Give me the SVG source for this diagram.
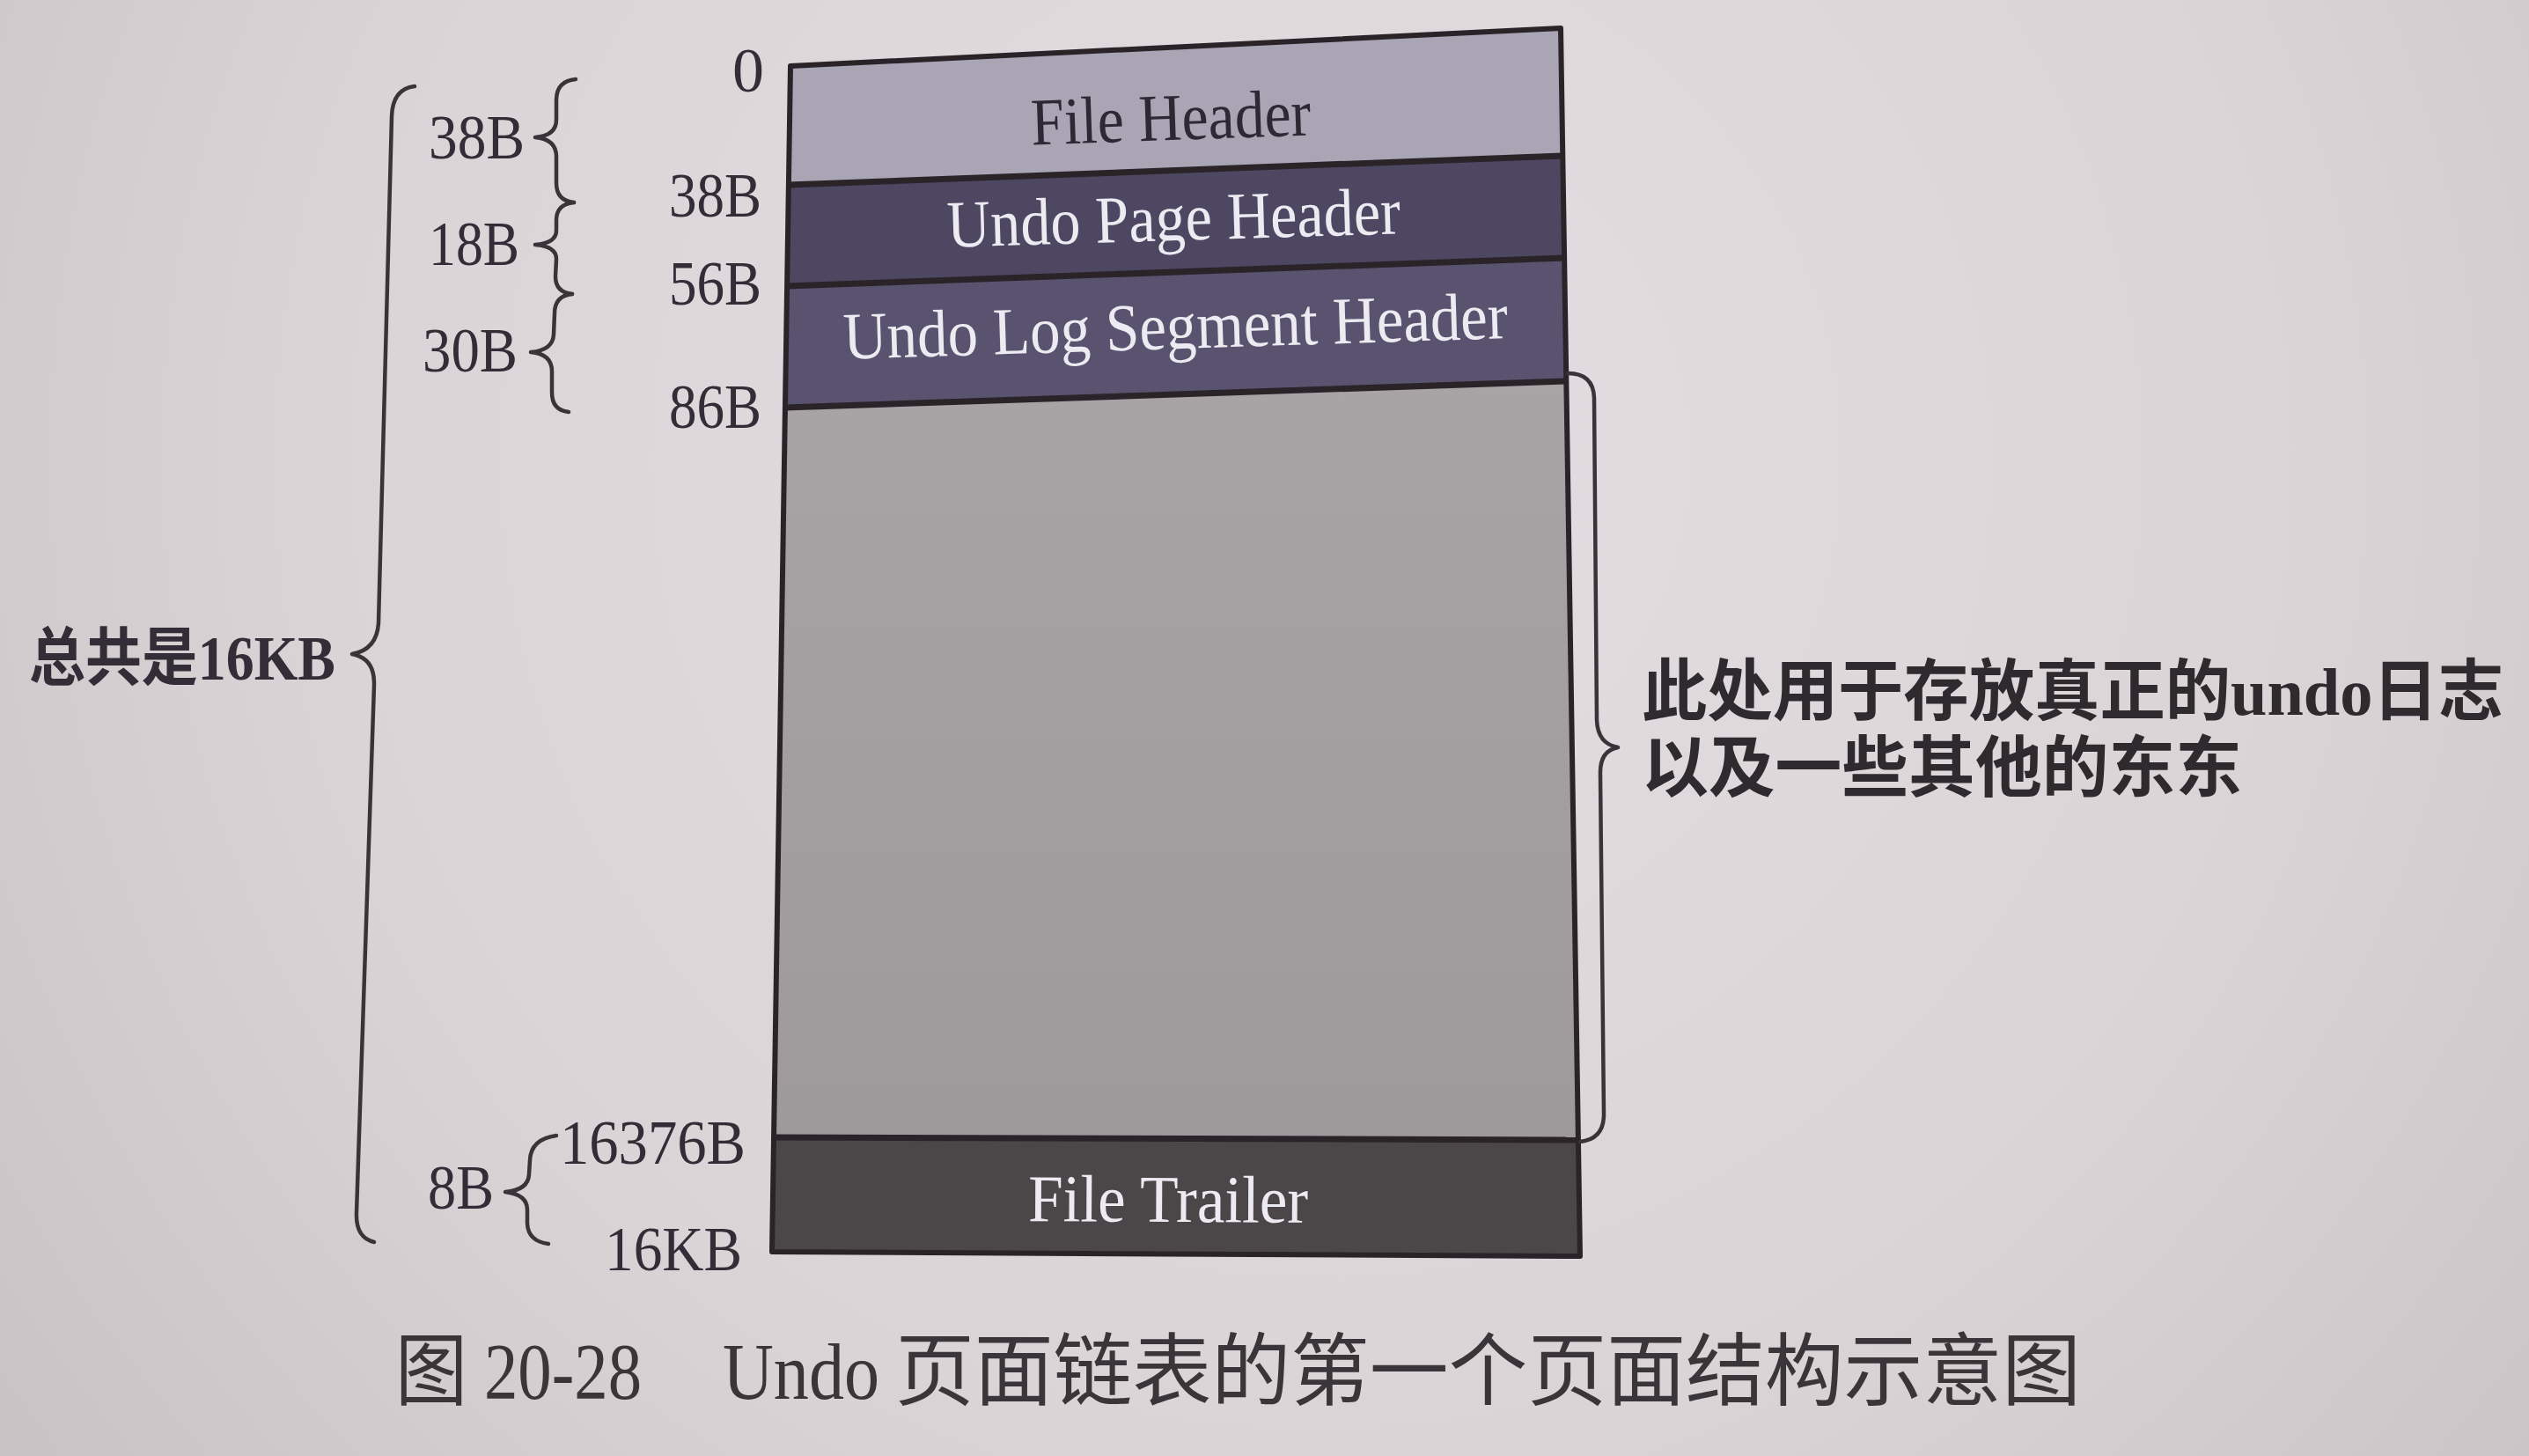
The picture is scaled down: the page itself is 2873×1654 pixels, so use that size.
<svg xmlns="http://www.w3.org/2000/svg" width="2873" height="1654" viewBox="0 0 2873 1654">
  <defs>
    <radialGradient id="paper" cx="1500" cy="520" r="1900" gradientUnits="userSpaceOnUse">
      <stop offset="0" stop-color="#e3dee1"/>
      <stop offset="0.6" stop-color="#dad4d7"/>
      <stop offset="1" stop-color="#c9c2c5"/>
    </radialGradient>
    <linearGradient id="bodyFill" x1="0" y1="0" x2="0" y2="1">
      <stop offset="0" stop-color="#a8a4a6"/>
      <stop offset="1" stop-color="#9e9a9b"/>
    </linearGradient>
    <style>
      .edge { fill: none; stroke: #2a2429; stroke-width: 6; stroke-linejoin: round; }
      .sep { fill: none; stroke: #2a2429; stroke-width: 7; }
      .brace { fill: none; stroke: #3a3438; stroke-width: 4.5; stroke-linecap: round; stroke-linejoin: round; }
      .lbl { font-family: "Liberation Serif", "Noto Sans CJK SC", serif; font-size: 72px; fill: #332d38; }
      .box { font-family: "Liberation Serif", serif; font-size: 76px; text-anchor: middle; }
      .dark { fill: #2d2833; }
      .light { fill: #ecebf2; }
      .note { font-family: "Liberation Serif", "Noto Sans CJK SC", serif; font-size: 76px; font-weight: bold; fill: #2e2a2e; }
      .cap { font-family: "Liberation Serif", "Noto Sans CJK SC", serif; font-size: 90px; fill: #3a3538; }
    </style>
  </defs>

  <!-- page background -->
  <rect x="0" y="0" width="2873" height="1654" fill="url(#paper)"/>

  <!-- page sections -->
  <g id="node-file-header">
    <polygon points="898,75 1773,32 1775,177 896,210" fill="#aaa5b5"/>
    <text class="box dark" x="1331" y="159" textLength="318" lengthAdjust="spacingAndGlyphs" transform="rotate(-2 1331 159)">File Header</text>
  </g>
  <g id="node-undo-page-header">
    <polygon points="896,210 1775,177 1777,293 894,325" fill="#4d4762"/>
    <text class="box light" x="1334" y="273" textLength="515" lengthAdjust="spacingAndGlyphs" transform="rotate(-1.7 1334 273)">Undo Page Header</text>
  </g>
  <g id="node-undo-log-segment-header">
    <polygon points="894,325 1777,293 1779,433 892,463" fill="#59536f"/>
    <text class="box light" x="1336" y="396" textLength="755" lengthAdjust="spacingAndGlyphs" transform="rotate(-1.8 1336 396)">Undo Log Segment Header</text>
  </g>
  <g id="node-body">
    <polygon points="892,463 1779,433 1793,1295 879,1292" fill="url(#bodyFill)"/>
  </g>
  <g id="node-file-trailer">
    <polygon points="879,1292 1793,1295 1795,1427 877,1422" fill="#4b4748"/>
    <text class="box light" x="1327" y="1388" textLength="318" lengthAdjust="spacingAndGlyphs" transform="rotate(0.3 1327 1388)">File Trailer</text>
  </g>

  <!-- section borders -->
  <g id="outline">
    <polyline class="sep" points="896,210 1775,177"/>
    <polyline class="sep" points="894,325 1777,293"/>
    <polyline class="sep" points="892,463 1779,433"/>
    <polyline class="sep" points="879,1292 1793,1295"/>
    <polygon class="edge" points="898,75 1773,32 1795,1427 877,1422"/>
  </g>

  <!-- braces -->
  <g id="connectors">
    <!-- 38B / 18B / 30B -->
    <path class="brace" d="M654,90 Q632,92 632,114 L632,136 Q632,154 608,156 Q632,158 632,178 L632,208 Q632,228 652,230"/>
    <path class="brace" d="M652,230 Q632,232 632,250 L632,262 Q632,276 608,278 Q632,280 632,294 L631,314 Q631,332 650,334"/>
    <path class="brace" d="M650,334 Q630,336 630,356 L629,380 Q628,398 603,400 Q627,402 627,422 L627,446 Q627,466 646,468"/>
    <!-- 8B -->
    <path class="brace" d="M632,1290 Q603,1294 602,1318 L601,1334 Q600,1352 574,1354 Q599,1357 599,1374 L599,1390 Q600,1410 623,1413"/>
    <!-- total -->
    <path class="brace" d="M471,98 Q446,101 445,132 L430,708 Q428,738 400,743 Q426,748 425,778 L405,1378 Q404,1406 425,1411"/>
    <!-- data area -->
    <path class="brace" d="M1781,424 Q1810,424 1811,452 L1814,818 Q1815,845 1838,849 Q1817,853 1818,880 L1822,1266 Q1822,1294 1795,1297"/>
  </g>

  <!-- offsets and sizes -->
  <g id="labels">
    <text class="lbl" x="868" y="104" text-anchor="end">0</text>
    <text class="lbl" x="865" y="246" text-anchor="end" textLength="105" lengthAdjust="spacingAndGlyphs">38B</text>
    <text class="lbl" x="865" y="346" text-anchor="end" textLength="105" lengthAdjust="spacingAndGlyphs">56B</text>
    <text class="lbl" x="865" y="486" text-anchor="end" textLength="105" lengthAdjust="spacingAndGlyphs">86B</text>
    <text class="lbl" x="847" y="1322" text-anchor="end" textLength="211" lengthAdjust="spacingAndGlyphs">16376B</text>
    <text class="lbl" x="843" y="1443" text-anchor="end" textLength="156" lengthAdjust="spacingAndGlyphs">16KB</text>

    <text class="lbl" x="487" y="180" textLength="109" lengthAdjust="spacingAndGlyphs">38B</text>
    <text class="lbl" x="487" y="301" textLength="103" lengthAdjust="spacingAndGlyphs">18B</text>
    <text class="lbl" x="480" y="422" textLength="108" lengthAdjust="spacingAndGlyphs">30B</text>
    <text class="lbl" x="486" y="1373" textLength="75" lengthAdjust="spacingAndGlyphs">8B</text>
    <text class="lbl" x="33" y="772" font-weight="bold" textLength="348" lengthAdjust="spacingAndGlyphs">总共是16KB</text>

    <text class="note" x="1865" y="812" textLength="979" lengthAdjust="spacingAndGlyphs">此处用于存放真正的undo日志</text>
    <text class="note" x="1865" y="899" textLength="682" lengthAdjust="spacingAndGlyphs">以及一些其他的东东</text>
  </g>

  <!-- figure caption -->
  <g id="caption">
    <text class="cap" x="449" y="1589" textLength="82" lengthAdjust="spacingAndGlyphs">图</text>
    <text class="cap" x="550" y="1589" textLength="179" lengthAdjust="spacingAndGlyphs">20-28</text>
    <text class="cap" x="821" y="1589" textLength="178" lengthAdjust="spacingAndGlyphs">Undo</text>
    <text class="cap" x="1017" y="1589" textLength="1347" lengthAdjust="spacingAndGlyphs">页面链表的第一个页面结构示意图</text>
  </g>
</svg>
